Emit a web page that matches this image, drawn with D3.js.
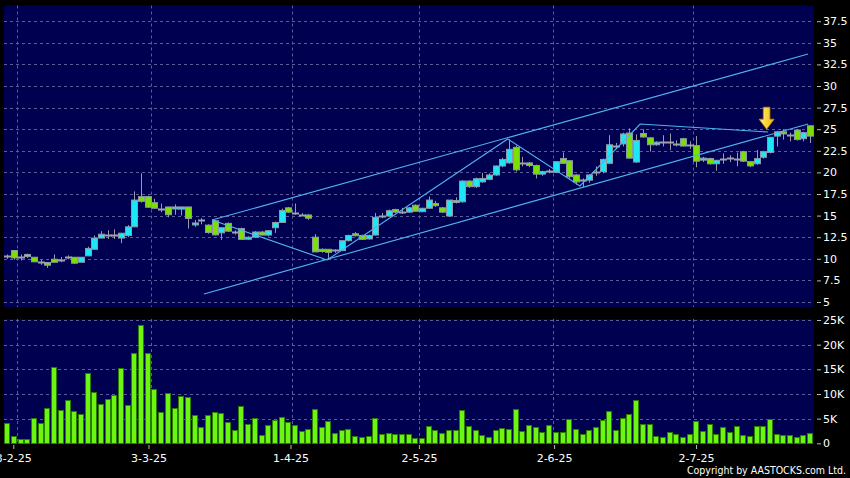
<!DOCTYPE html>
<html><head><meta charset="utf-8">
<script src="https://cdn.jsdelivr.net/npm/d3@7"></script>
<style>html,body{margin:0;padding:0;background:#000;}svg{display:block;}</style>
</head><body>
<svg id="c" width="850" height="478"></svg>
<script>
// ---- data ----
const openP  = [10.3,10.96,10.26,10.26,10.18,9.65,9.57,9.95,9.88,10.26,10.18,9.6,10.34,11.1,12.4,12.77,12.7,12.4,12.69,13.7,
  17.2,17.2,16.5,15.8,16.0,15.8,15.75,16.0,13.95,14.5,13.9,14.4,13.0,14.1,13.06,13.5,12.3,12.5,13.1,12.75,
  13.6,14.2,15.9,15.3,15.1,15.07,12.5,11.1,11.1,11.0,10.95,12.1,12.9,12.7,12.3,12.75,14.9,14.95,15.7,15.4,
  15.4,16.2,15.45,15.85,16.4,15.9,14.95,16.75,16.6,19.0,18.35,18.9,19.2,19.7,20.74,21.1,22.9,21.1,21.1,20.8,
  19.8,20.2,20.0,21.6,21.35,19.7,19.1,19.1,20.0,20.1,21.05,23.05,23.3,24.55,21.2,24.5,24.0,23.2,23.5,23.5,
  23.3,23.9,23.2,23.1,21.55,21.6,21.0,21.6,21.7,21.55,22.4,21.25,21.0,21.75,22.3,24.2,24.7,24.3,24.9,23.9,25.4];
const highP  = [10.5,11.0,10.5,10.6,10.2,9.9,9.6,10.5,10.2,10.4,10.2,10.2,11.4,12.7,13.2,13.3,13.4,13.0,13.9,17.8,
  19.9,17.3,16.95,16.4,16.0,16.3,16.0,16.0,14.5,14.7,14.0,14.5,13.6,14.2,13.3,13.6,12.6,13.2,13.2,13.3,
  14.3,15.8,16.0,16.4,15.3,15.2,12.85,11.2,11.1,11.1,12.1,12.8,13.1,12.8,12.8,15.3,15.3,15.7,15.8,15.9,
  16.0,16.3,15.9,17.2,16.7,16.0,16.8,17.1,19.1,19.1,19.4,19.95,19.9,20.8,21.7,23.8,23.1,21.8,21.2,20.9,
  20.2,20.4,21.3,22.3,21.4,19.8,19.3,19.8,20.7,21.6,24.3,23.4,24.6,25.1,24.4,25.0,24.1,23.6,24.3,24.5,
  23.7,24.0,23.6,24.2,21.8,21.7,21.4,22.2,22.0,22.3,22.5,21.3,22.6,22.5,24.1,24.8,25.0,24.6,25.0,24.7,25.4];
const lowP   = [10.0,9.9,9.8,10.1,9.6,9.3,8.95,9.6,9.6,9.95,9.4,9.6,10.3,11.1,12.4,12.3,12.3,11.8,12.5,13.7,
  16.5,15.9,15.8,15.4,14.8,15.1,15.0,13.5,13.7,14.0,12.9,12.7,12.2,13.1,12.8,12.2,12.2,12.4,12.7,12.6,
  13.0,14.2,15.3,15.1,14.95,14.5,10.8,10.7,9.86,10.7,10.9,12.0,12.6,12.2,12.2,12.7,14.7,14.9,15.3,15.2,
  15.3,15.5,15.4,15.8,16.0,15.3,14.9,16.4,16.5,18.2,18.2,18.8,19.1,19.6,20.6,21.0,20.1,20.7,20.6,19.3,
  19.6,19.9,19.9,21.0,19.3,18.6,18.3,18.8,19.6,19.9,21.0,22.7,23.0,21.6,21.1,24.0,22.4,23.1,23.0,22.6,
  23.0,23.0,22.7,20.6,21.2,20.9,20.2,21.0,21.2,20.7,21.2,20.6,20.9,21.6,22.2,23.0,23.8,23.6,23.7,23.6,23.4];
const closeP = [10.3,10.1,10.26,10.5,9.65,9.65,9.26,9.6,9.88,10.26,9.49,10.18,11.2,12.4,12.85,12.77,12.7,12.96,13.7,16.8,
  16.65,15.97,15.85,15.8,15.1,16.0,16.0,14.66,14.15,14.5,13.04,12.77,13.6,13.2,13.06,12.25,12.5,13.1,12.75,13.25,
  14.2,15.6,15.4,15.3,15.1,14.7,10.8,10.85,10.75,11.0,12.1,12.7,12.75,12.25,12.7,14.8,14.9,15.57,15.4,15.4,
  15.9,15.5,15.85,16.8,16.15,15.4,16.8,16.6,19.0,18.35,19.27,19.3,19.7,20.74,21.5,22.67,20.3,21.1,20.8,19.8,
  20.1,20.2,21.24,21.05,19.5,18.9,19.1,19.7,20.0,21.5,23.2,23.05,24.45,21.65,23.7,24.1,23.2,23.5,23.5,23.5,
  23.3,23.05,23.2,21.3,21.65,21.0,21.4,21.6,21.7,21.55,21.3,20.75,21.6,22.4,24.06,24.7,24.45,24.3,23.8,24.6,24.2];
const volumeK = [4.05,1.55,0.9,0.9,5.1,4.1,7.2,15.5,6.7,8.8,6.6,6.0,14.2,10.5,8.0,8.9,9.7,15.2,7.7,18.4,
  23.9,18.4,11.1,6.3,10.1,7.2,9.5,9.3,5.7,3.4,5.7,6.4,6.1,4.4,2.6,7.6,4.0,5.1,1.6,3.8,
  4.8,5.3,4.4,3.8,2.4,2.8,7.0,3.4,4.5,2.0,2.7,2.9,1.5,1.2,1.5,5.2,1.9,2.0,1.9,1.85,
  1.8,1.15,1.0,3.6,2.6,2.0,2.6,2.7,6.8,3.5,2.7,1.75,1.3,2.7,3.2,3.0,7.0,2.4,3.7,3.4,
  2.2,3.7,2.35,2.2,4.9,2.8,1.95,2.6,3.4,4.7,6.5,2.7,5.2,5.85,8.75,3.95,3.9,1.5,1.25,2.3,
  1.9,1.25,1.8,4.45,2.5,3.95,1.95,3.35,2.2,3.5,1.75,1.5,3.55,3.55,4.9,1.9,1.6,1.7,1.25,1.7,2.1];
const tickIdx = [1, 21, 42, 61, 81, 102];
const tickLabels = ["3-2-25", "3-3-25", "1-4-25", "2-5-25", "2-6-25", "2-7-25"];
const priceTicks = [5, 7.5, 10, 12.5, 15, 17.5, 20, 22.5, 25, 27.5, 30, 32.5, 35, 37.5];
const volumeTicks = [0, 5, 10, 15, 20, 25];
// trend lines as [candle index, price]
const upperChannel = [[30.6, 14.49], [119.7, 33.7]];
const lowerChannel = [[29.4, 5.93], [119.7, 25.6]];
const zigzag = [[30.6, 14.49], [47.8, 9.86], [74.8, 23.87], [85.6, 18.43], [94.6, 25.6], [113.7, 24.68]];
const arrowAt = [113.5, 25.0];

// ---- drawing ----
const svg = d3.select("#c");
const n = closeP.length;
const x = d3.scaleLinear().domain([0, n - 1]).range([7.3, 810.1]);
const xLab = d3.scaleLinear().domain([0, n - 1]).range([6.55, 817.75]);
const yP = d3.scaleLinear().domain([5, 37.5]).range([302, 21.2]);
const yV = d3.scaleLinear().domain([0, 25]).range([443.3, 320]);

const L = 4, R = 814;
const pTop = 5.5, pBot = 307, vTop = 319, vBot = 443.5;
const gridCol = "#5c5c98";

svg.append("rect").attr("width", 850).attr("height", 478).attr("fill", "#000");
svg.append("rect").attr("x", L).attr("y", pTop).attr("width", R - L).attr("height", pBot - pTop).attr("fill", "#000050");
svg.append("rect").attr("x", L).attr("y", vTop).attr("width", R - L).attr("height", vBot - vTop).attr("fill", "#000050");

// gridlines
const g = svg.append("g").attr("stroke", gridCol).attr("stroke-width", 1).attr("stroke-dasharray", "3,3");
priceTicks.forEach(v => { const yy = Math.round(yP(v)) + 0.5;
  g.append("line").attr("x1", L).attr("x2", R).attr("y1", yy).attr("y2", yy); });
volumeTicks.filter(v => v > 0).forEach(v => { const yy = Math.round(yV(v)) + 0.5;
  g.append("line").attr("x1", L).attr("x2", R).attr("y1", yy).attr("y2", yy); });
tickIdx.forEach(i => { const xx = Math.round(x(i + 0.5)) + 0.5;
  g.append("line").attr("x1", xx).attr("x2", xx).attr("y1", pTop).attr("y2", pBot);
  g.append("line").attr("x1", xx).attr("x2", xx).attr("y1", vTop).attr("y2", vBot); });

// volume bars
svg.append("g").selectAll("rect").data(volumeK).join("rect")
  .attr("x", (d, i) => Math.round(x(i)) - 2.5)
  .attr("y", d => Math.round(yV(d)) + 0.5)
  .attr("width", 5)
  .attr("height", d => Math.max(0, Math.round(yV(0)) - Math.round(yV(d))))
  .attr("fill", "#6cf512").attr("stroke", "#2a7d00").attr("stroke-width", 1);

// candles
const idx = d3.range(n);
const cg = svg.append("g");
cg.selectAll("line.w").data(idx).join("line").attr("class", "w")
  .attr("x1", i => Math.round(x(i)) + 0.5).attr("x2", i => Math.round(x(i)) + 0.5)
  .attr("y1", i => yP(highP[i])).attr("y2", i => yP(lowP[i]))
  .attr("stroke", "#9a9aa6").attr("stroke-width", 1);
cg.selectAll("rect").data(idx.filter(i => Math.abs(closeP[i] - openP[i]) > 0.001)).join("rect")
  .attr("x", i => Math.round(x(i)) - 2.5)
  .attr("y", i => yP(Math.max(openP[i], closeP[i])))
  .attr("width", 6)
  .attr("height", i => Math.max(2, Math.abs(yP(openP[i]) - yP(closeP[i]))))
  .attr("fill", i => closeP[i] > openP[i] ? "#1fe6f4" : "#7ae000")
  .attr("stroke", "#8c9aa6").attr("stroke-width", 1);
cg.selectAll("line.d").data(idx.filter(i => Math.abs(closeP[i] - openP[i]) <= 0.001)).join("line").attr("class", "d")
  .attr("x1", i => Math.round(x(i)) - 3).attr("x2", i => Math.round(x(i)) + 4)
  .attr("y1", i => Math.round(yP(closeP[i])) + 0.5).attr("y2", i => Math.round(yP(closeP[i])) + 0.5)
  .attr("stroke", "#a0a0ae").attr("stroke-width", 2);

// trend lines
const line = d3.line().x(d => x(d[0])).y(d => yP(d[1]));
[upperChannel, lowerChannel, zigzag].forEach(pts =>
  svg.append("path").attr("d", line(pts)).attr("fill", "none").attr("stroke", "#4fb4ee").attr("stroke-width", 1.1));

// arrow
const ax = x(arrowAt[0]), ay = yP(arrowAt[1]);
const grad = svg.append("defs").append("linearGradient").attr("id", "ag").attr("x1", 0).attr("x2", 1).attr("y1", 0).attr("y2", 0);
grad.append("stop").attr("offset", "0").attr("stop-color", "#fff27a");
grad.append("stop").attr("offset", "1").attr("stop-color", "#f2b800");
svg.append("path")
  .attr("d", `M${ax},${ay} L${ax - 7.5},${ay - 10} L${ax - 3.3},${ay - 10} L${ax - 3.3},${ay - 22} L${ax + 3.3},${ay - 22} L${ax + 3.3},${ay - 10} L${ax + 7.5},${ay - 10} Z`)
  .attr("fill", "url(#ag)").attr("stroke", "#c98a00").attr("stroke-width", 0.8);

// axes
const font = "DejaVu Sans, Verdana, sans-serif";
const pa = svg.append("g").attr("transform", `translate(817,0)`)
  .call(d3.axisRight(yP).tickValues(priceTicks).tickSize(4).tickPadding(2).tickFormat(d => String(d)));
const va = svg.append("g").attr("transform", `translate(817,0)`)
  .call(d3.axisRight(yV).tickValues(volumeTicks).tickSize(4).tickPadding(2).tickFormat(d => d === 0 ? "0" : d + "K"));
const ba = svg.append("g").attr("transform", `translate(0,445)`)
  .call(d3.axisBottom(xLab).tickValues(tickIdx).tickSize(4).tickPadding(5).tickFormat((d, i) => tickLabels[i]));
[pa, va, ba].forEach(a => {
  a.select(".domain").remove();
  a.selectAll("line").attr("stroke", "#bbbbbb");
  a.selectAll("text").attr("fill", "#ffffff").style("font-family", font).style("font-size", "11px");
});

svg.append("text").attr("x", 846).attr("y", 474).attr("text-anchor", "end")
  .attr("fill", "#ffffff").style("font-family", "DejaVu Sans Condensed, DejaVu Sans, sans-serif").style("font-size", "10px")
  .attr("textLength", 159).attr("lengthAdjust", "spacingAndGlyphs")
  .text("Copyright by AASTOCKS.com Ltd.");
</script>
</body></html>
